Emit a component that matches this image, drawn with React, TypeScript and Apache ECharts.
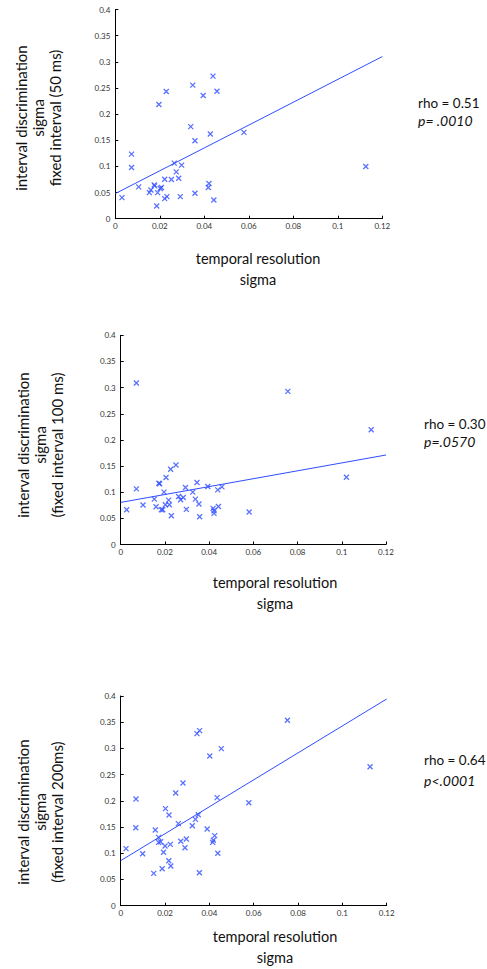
import React, { useEffect, useRef } from 'react';
import * as echarts from 'echarts';

// x: temporal resolution sigma, y: interval discrimination sigma
const panel1Points: [number, number][] = [
  [0.0030, 0.0403], [0.0073, 0.1235], [0.0073, 0.0979], [0.0105, 0.0608], [0.0153, 0.0499],
  [0.0160, 0.0550], [0.0175, 0.0646], [0.0177, 0.0627], [0.0186, 0.0243], [0.0190, 0.0499],
  [0.0196, 0.2182], [0.0202, 0.0576], [0.0207, 0.0595], [0.0222, 0.0755], [0.0222, 0.0384],
  [0.0229, 0.2432], [0.0232, 0.0422], [0.0252, 0.0749], [0.0265, 0.1062], [0.0274, 0.0896],
  [0.0285, 0.0774], [0.0292, 0.0422], [0.0298, 0.1024], [0.0339, 0.1760], [0.0348, 0.2554],
  [0.0358, 0.1491], [0.0358, 0.0486], [0.0395, 0.2355], [0.0418, 0.0595], [0.0421, 0.0672],
  [0.0427, 0.1619], [0.0439, 0.2726], [0.0443, 0.0358], [0.0457, 0.2438], [0.0578, 0.1651],
  [0.1126, 0.0998],
];
const panel1Fit: [number, number][] = [[0, 0.048], [0.12, 0.310]];

const panel2Points: [number, number][] = [
  [0.0027, 0.0665], [0.0071, 0.3087], [0.0071, 0.1064], [0.0101, 0.0754], [0.0152, 0.0868],
  [0.0160, 0.0722], [0.0173, 0.1172], [0.0176, 0.1160], [0.0184, 0.0665], [0.0190, 0.0665],
  [0.0196, 0.1001], [0.0202, 0.0760], [0.0205, 0.1280], [0.0217, 0.0848], [0.0220, 0.0760],
  [0.0226, 0.1439], [0.0229, 0.0551], [0.0250, 0.1521], [0.0262, 0.0919], [0.0271, 0.0855],
  [0.0283, 0.0900], [0.0293, 0.1090], [0.0297, 0.0671], [0.0326, 0.1001], [0.0338, 0.0868],
  [0.0345, 0.1185], [0.0354, 0.0773], [0.0357, 0.0532], [0.0394, 0.1109], [0.0418, 0.0690],
  [0.0422, 0.0646], [0.0422, 0.0595], [0.0439, 0.1045], [0.0442, 0.0728], [0.0458, 0.1102],
  [0.0581, 0.0621], [0.0756, 0.2928], [0.1021, 0.1286], [0.1133, 0.2193],
];
const panel2Fit: [number, number][] = [[0, 0.0805], [0.12, 0.1711]];

const panel3Points: [number, number][] = [
  [0.0024, 0.1088], [0.0069, 0.2035], [0.0068, 0.1488], [0.0099, 0.0992], [0.0149, 0.0617],
  [0.0156, 0.1444], [0.0171, 0.1304], [0.0171, 0.1208], [0.0180, 0.1221], [0.0187, 0.0706],
  [0.0193, 0.1018], [0.0200, 0.1138], [0.0202, 0.1851], [0.0217, 0.0859], [0.0218, 0.1730],
  [0.0224, 0.1170], [0.0226, 0.0757], [0.0248, 0.2150], [0.0260, 0.1565], [0.0271, 0.1228],
  [0.0281, 0.2341], [0.0290, 0.1107], [0.0296, 0.1272], [0.0323, 0.1526], [0.0337, 0.1647],
  [0.0344, 0.3282], [0.0350, 0.1736], [0.0355, 0.0630], [0.0356, 0.3339], [0.0390, 0.1463],
  [0.0402, 0.2856], [0.0415, 0.1208], [0.0418, 0.1247], [0.0424, 0.1336], [0.0435, 0.2061],
  [0.0438, 0.0999], [0.0454, 0.2996], [0.0578, 0.1965], [0.0752, 0.3536], [0.1125, 0.2652],
];
const panel3Fit: [number, number][] = [[0, 0.0859], [0.12, 0.3943]];

const yTitles = [
  'interval discrimination\nsigma\nfixed interval (50 ms)',
  'interval discrimination\nsigma\n(fixed interval 100 ms)',
  'interval discrimination\nsigma\n(fixed interval 200ms)',
];
const xTitle = 'temporal resolution\nsigma';
const rhoTexts = ['rho = 0.51', 'rho = 0.30', 'rho = 0.64'];
const pTexts = ['p= .0010', 'p=.0570', 'p<.0001'];

const BLUE = '#2f4dff';
const FONT = 'Lato, "Noto Sans", sans-serif';

const grids = [
  { left: 115.3, top: 9.5, width: 267, height: 209.2 },
  { left: 120.7, top: 335.3, width: 265.3, height: 209.2 },
  { left: 120.7, top: 696, width: 266, height: 209.7 },
];

export default function App() {
  const ref = useRef<HTMLDivElement>(null);
  useEffect(() => {
    if (!ref.current) return;
    const chart = echarts.init(ref.current, null, { renderer: 'svg' });
    const axisCommon = {
      axisLine: { show: true, onZero: false, lineStyle: { color: '#000', width: 1 } },
      axisTick: { show: true, inside: true, length: 3, lineStyle: { color: '#000' } },
      splitLine: { show: false },
      axisLabel: { fontSize: 8, color: '#333', fontFamily: FONT },
    };
    const xAxis = grids.map((_, i) => ({
      type: 'value', gridIndex: i, min: 0, max: 0.12, interval: 0.02,
      ...axisCommon,
      axisLabel: { ...axisCommon.axisLabel, margin: 3 },
    }));
    const yAxis = grids.map((_, i) => ({
      type: 'value', gridIndex: i, min: 0, max: 0.4, interval: 0.05,
      ...axisCommon,
      axisLabel: { ...axisCommon.axisLabel, margin: 5 },
    }));
    const pts = [panel1Points, panel2Points, panel3Points];
    const fits = [panel1Fit, panel2Fit, panel3Fit];
    const series: any[] = [];
    pts.forEach((p, i) => {
      series.push({
        type: 'scatter', xAxisIndex: i, yAxisIndex: i, data: p,
        symbol: 'path://M0 0L10 10M10 0L0 10', symbolSize: 5,
        itemStyle: { color: 'none', borderColor: BLUE, borderWidth: 1.3 },
      });
      series.push({
        type: 'line', xAxisIndex: i, yAxisIndex: i, data: fits[i],
        symbol: 'none', lineStyle: { color: BLUE, width: 1 },
      });
    });
    const yTitlePos = [[38, 118], [40, 445], [40, 812]];
    const xTitlePos = [[258, 269], [275, 593], [275, 947]];
    const rhoPos = [[418, 103, 120], [424, 424, 441], [424, 760, 780]];
    const graphic: any[] = [];
    for (let i = 0; i < 3; i++) {
      graphic.push({
        type: 'text', x: yTitlePos[i][0], y: yTitlePos[i][1], rotation: Math.PI / 2,
        style: { text: yTitles[i], fontSize: 15, lineHeight: 17, fontFamily: FONT, fill: '#111', align: 'center', verticalAlign: 'middle' },
      });
      graphic.push({
        type: 'text', x: xTitlePos[i][0], y: xTitlePos[i][1],
        style: { text: xTitle, fontSize: 14.5, lineHeight: 21, fontFamily: FONT, fill: '#111', align: 'center', verticalAlign: 'middle' },
      });
      graphic.push({
        type: 'text', x: rhoPos[i][0], y: rhoPos[i][1],
        style: { text: rhoTexts[i], fontSize: 13.5, fontFamily: FONT, fill: '#111', align: 'left', verticalAlign: 'middle' },
      });
      graphic.push({
        type: 'text', x: rhoPos[i][0], y: rhoPos[i][2],
        style: { text: pTexts[i], fontSize: 14, fontStyle: 'italic', fontFamily: FONT, fill: '#111', align: 'left', verticalAlign: 'middle' },
      });
    }
    chart.setOption({
      animation: false,
      backgroundColor: '#fff',
      grid: grids.map(g => ({ ...g, containLabel: false })),
      xAxis, yAxis, series, graphic,
    });
    return () => chart.dispose();
  }, []);
  return <div ref={ref} style={{ position: 'absolute', left: 0, top: 0, width: 487, height: 969 }} />;
}
